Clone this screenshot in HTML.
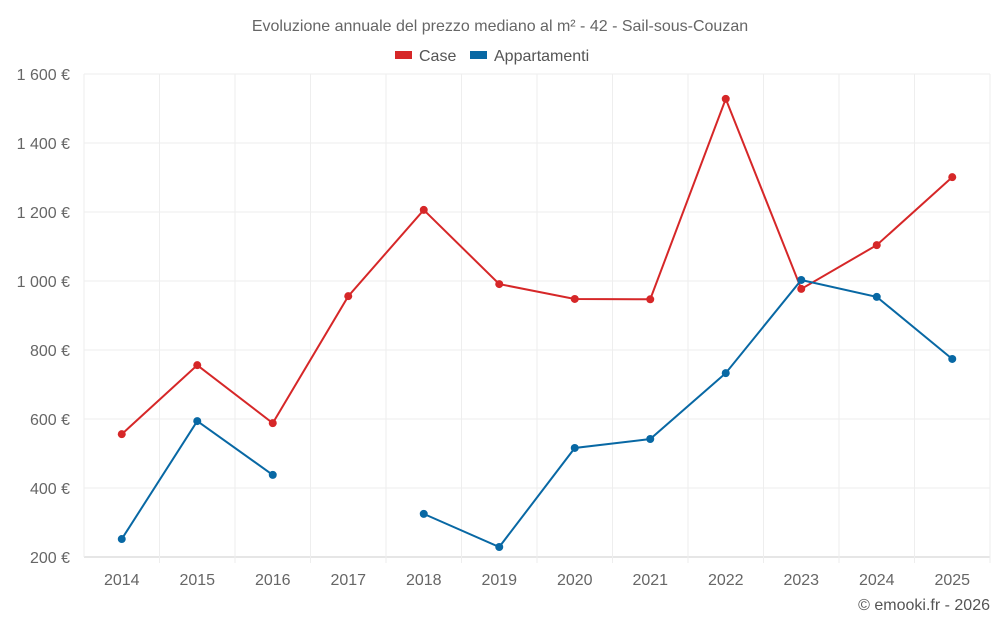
<!DOCTYPE html>
<html><head><meta charset="utf-8"><style>
body{margin:0;background:#fff;font-family:"Liberation Sans",sans-serif;}
svg text{font-family:"Liberation Sans",sans-serif;}
</style></head><body>
<svg id="c" width="1000" height="625">
<text x="500" y="31" text-anchor="middle" font-size="16" fill="#666">Evoluzione annuale del prezzo mediano al m² - 42 - Sail-sous-Couzan</text>
<g><rect x="395" y="51" width="17" height="8" fill="#d62728"/><text x="419" y="61" font-size="16" fill="#555">Case</text></g>
<g><rect x="470" y="51" width="17" height="8" fill="#0868a4"/><text x="494" y="61" font-size="16" fill="#555">Appartamenti</text></g>
<g id="grid"></g><g id="axes"></g><g id="series"></g>
<text x="990" y="610" text-anchor="end" font-size="16" fill="#555">© emooki.fr - 2026</text>
</svg>
<script>
const years=[2014,2015,2016,2017,2018,2019,2020,2021,2022,2023,2024,2025];
const caseVals=[556,756,588,956,1206,991,948,947,1528,977,1104,1301];
const appVals=[252,594,438,null,325,229,516,542,733,1003,954,774];
const yTicks=[200,400,600,800,1000,1200,1400,1600];
const yTickLabels=["200 €","400 €","600 €","800 €","1 000 €","1 200 €","1 400 €","1 600 €"];
const NS="http://www.w3.org/2000/svg";
const L=84,R=990,T=74,B=557,yMin=200,yMax=1600;
const step=(R-L)/years.length;
const x=i=>L+step*(i+0.5);
const y=v=>B-(v-yMin)/(yMax-yMin)*(B-T);
function mk(tag,at,parent){const e=document.createElementNS(NS,tag);for(const k in at)e.setAttribute(k,at[k]);document.getElementById(parent).appendChild(e);return e;}
yTicks.forEach((v,i)=>{
 const g=mk('line',{x1:L,x2:R,y1:y(v),y2:y(v),stroke:i==0?'#ccc':'#eee'},'grid');
 
 
 const t=mk('text',{x:70,y:y(v)+6,'text-anchor':'end','font-size':16,fill:'#666'},'axes');
 t.textContent=yTickLabels[i];
 
 
});
for(let i=0;i<=years.length;i++){
 const g=mk('line',{x1:L+step*i,x2:L+step*i,y1:T,y2:B+(i==0?0:6),stroke:'#eee'},'grid');
 
 
}
years.forEach((yr,i)=>{
 const t=mk('text',{x:x(i),y:585,'text-anchor':'middle','font-size':16,fill:'#666'},'axes');
 t.textContent=yr;
 
 
});
function drawSeries(vals,color,name){
 let d='',pen=false;
 vals.forEach((v,i)=>{if(v==null){pen=false;return;}d+=(pen?'L':'M')+x(i)+' '+y(v)+' ';pen=true;});
 const p=mk('path',{d:d,fill:'none',stroke:color,'stroke-width':2},'series');
 
 
 vals.forEach((v,i)=>{if(v==null)return;
  const c=mk('circle',{cx:x(i),cy:y(v),r:4,fill:color},'series');
  
  
 });
}
drawSeries(caseVals,'#d62728','case');
drawSeries(appVals,'#0868a4','appartamenti');
</script>
</body></html>
